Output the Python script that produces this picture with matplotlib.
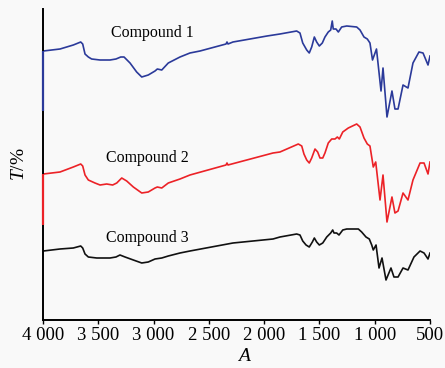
import matplotlib
matplotlib.use("Agg")
import matplotlib.pyplot as plt

wn_1 = [3997, 3846, 3726, 3659, 3641, 3620, 3590, 3560, 3484, 3394, 3340, 3297, 3267,
        3213, 3153, 3107, 3048, 2987, 2966, 2926, 2867, 2761, 2671, 2580, 2345, 2336,
        2327, 2282, 1974, 1857, 1706, 1676, 1651, 1615, 1592, 1570, 1546, 1525, 1501,
        1474, 1450, 1420, 1398, 1384, 1375, 1350, 1329, 1299, 1253, 1163, 1133, 1097,
        1067, 1043, 1020, 984, 943, 925, 889, 844, 817, 789, 744, 699, 654, 600, 563,
        518, 500]
t_1 = [269, 271, 275, 278, 276, 266, 263, 261, 260, 260, 261, 263, 263,
       257, 248, 243, 245, 249, 251, 250, 257, 263, 267, 269, 276, 278,
       276, 278, 284, 286, 289, 287, 277, 270, 267, 273, 283, 278, 274,
       277, 283, 288, 290, 299, 291, 291, 288, 293, 294, 293, 290, 283,
       281, 277, 260, 271, 229, 252, 203, 229, 211, 211, 235, 232, 257, 268, 267,
       255, 264]

wn_2 = [3997, 3846, 3726, 3659, 3641, 3620, 3590, 3530, 3484, 3424, 3370, 3333, 3288,
        3243, 3183, 3107, 3048, 2987, 2966, 2926, 2867, 2761, 2671, 2345, 2336, 2327,
        1920, 1857, 1691, 1660, 1640, 1615, 1592, 1570, 1540, 1516, 1495, 1470, 1450,
        1420, 1389, 1359, 1338, 1320, 1289, 1239, 1163, 1133, 1097, 1067, 1043, 1013,
        991, 952, 925, 889, 844, 817, 789, 744, 699, 654, 590, 554, 518, 500]
t_2 = [146, 148, 153, 156, 154, 145, 140, 137, 135, 136, 135, 137, 142,
       139, 133, 127, 128, 132, 133, 132, 137, 141, 145, 155, 157, 155,
       167, 168, 176, 174, 166, 160, 157, 162, 171, 168, 162, 162, 167,
       177, 181, 181, 183, 181, 188, 192, 196, 193, 182, 176, 174, 153,
       158, 120, 145, 98, 123, 107, 109, 127, 120, 140, 157, 157, 146, 158]

wn_3 = [3997, 3846, 3726, 3659, 3641, 3620, 3590, 3514, 3394, 3340, 3304, 3258, 3183,
        3107, 3048, 2987, 2926, 2867, 2761, 2671, 2282, 1920, 1857, 1706, 1676, 1651,
        1621, 1592, 1564, 1546, 1525, 1501, 1470, 1434, 1398, 1380, 1368, 1344, 1323,
        1289, 1253, 1148, 1118, 1079, 1049, 1027, 1013, 988, 961, 934, 898, 853, 826,
        789, 744, 699, 645, 590, 554, 518, 500]
t_3 = [69, 71, 72, 74, 72, 66, 63, 62, 62, 63, 65, 63, 60,
       57, 58, 61, 62, 64, 67, 69, 77, 81, 83, 86, 85, 79,
       75, 73, 78, 82, 78, 75, 77, 83, 87, 90, 87, 87, 85,
       90, 91, 91, 88, 83, 81, 75, 70, 75, 52, 62, 40, 52, 43,
       43, 52, 50, 63, 69, 67, 61, 67]

# Traço vertical colorido no eixo esquerdo (início de cada curva)
inicio_1 = [209, 269]
inicio_2 = [95, 146]

nomes = ["Compound 1", "Compound 2", "Compound 3"]
ticks_x = [4000, 3500, 3000, 2500, 2000, 1500, 1000, 500]
rotulos_x = ["4 000", "3 500", "3 000", "2 500", "2 000", "1 500", "1 000", "500"]

plt.rcParams["font.family"] = "Liberation Serif"
plt.rcParams["mathtext.fontset"] = "custom"
plt.rcParams["mathtext.rm"] = "Liberation Serif"
plt.rcParams["mathtext.it"] = "Liberation Serif:italic"

fundo = "#f9f9f9"
fig = plt.figure(figsize=(4.45, 3.68), dpi=100, facecolor=fundo)
ax = fig.add_axes([43 / 445, 48 / 368, 387 / 445, 311 / 368], facecolor=fundo)

cores = ["#2b3a9a", "#ec2227", "#111111"]
ax.plot(wn_1, t_1, color=cores[0], lw=1.2)
ax.plot(wn_2, t_2, color=cores[1], lw=1.2)
ax.plot(wn_3, t_3, color=cores[2], lw=1.2)

ax.set_xlim(4000, 500)
ax.set_ylim(0, 311)

ax.spines["top"].set_visible(False)
ax.spines["right"].set_visible(False)
ax.spines["left"].set_linewidth(1.4)
ax.spines["bottom"].set_linewidth(1.4)

ax.vlines(4000, inicio_1[0], inicio_1[1], color=cores[0], lw=1.6, zorder=5, clip_on=False)
ax.vlines(4000, inicio_2[0], inicio_2[1], color=cores[1], lw=1.6, zorder=5, clip_on=False)

ax.text(3014, 287, nomes[0], fontsize=11.4, ha="center", va="center")
ax.text(3055, 162, nomes[1], fontsize=11.4, ha="center", va="center")
ax.text(3055, 82, nomes[2], fontsize=11.4, ha="center", va="center")

ax.set_xticks(ticks_x)
ax.set_xticklabels(rotulos_x, fontsize=13.5)
ax.set_yticks([])
ax.tick_params(axis="x", direction="out", length=3, width=1, pad=2)

ax.set_xlabel("$A$", fontsize=14)
ax.xaxis.set_label_coords(0.52, -0.09)
ax.set_ylabel("$T$/%", fontsize=14)
ax.yaxis.set_label_coords(-0.04, 0.5)

fig.savefig("out.png", dpi=100, facecolor=fundo)
